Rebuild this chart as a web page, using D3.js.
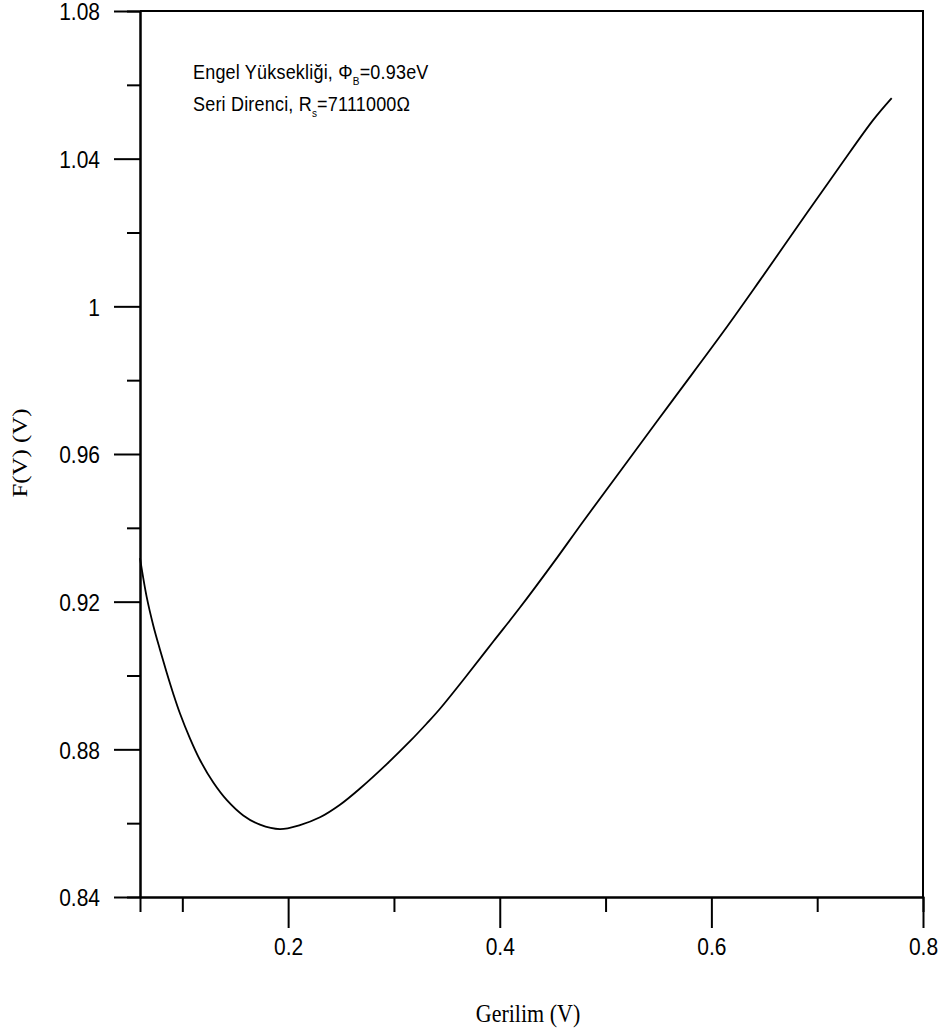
<!DOCTYPE html>
<html>
<head>
<meta charset="utf-8">
<script src="https://cdn.jsdelivr.net/npm/d3@7"></script>
<style>
  body { margin: 0; background: #fff; }
  svg { display: block; }
</style>
</head>
<body>
<script>
const width = 947
const height = 1035

// F(V) egrisi
const voltage = [0.060, 0.0663, 0.0726, 0.0789, 0.0852, 0.0915, 0.0978, 0.1073, 0.1167, 0.1293,
  0.1419, 0.1576, 0.1734, 0.1923, 0.2112, 0.2301, 0.2490, 0.2679, 0.2932, 0.3152,
  0.3310, 0.3435, 0.3688, 0.3939, 0.4191, 0.4506, 0.4790, 0.5168, 0.5640, 0.6113,
  0.6460, 0.6901, 0.7216, 0.7530, 0.7704]
const fv = [0.9318, 0.9213, 0.9135, 0.9070, 0.9008, 0.8950, 0.8897, 0.8829, 0.8771, 0.8710,
  0.8663, 0.8621, 0.8596, 0.8584, 0.8595, 0.8616, 0.8650, 0.8694, 0.8760, 0.8822,
  0.8870, 0.8910, 0.9000, 0.9092, 0.9184, 0.9305, 0.9418, 0.9565, 0.9748, 0.9931,
  1.0071, 1.0252, 1.0380, 1.0505, 1.0564]

const xMajor = [0.2, 0.4, 0.6, 0.8]
const xMinor = [0.1, 0.3, 0.5, 0.7]
const yMajor = [0.84, 0.88, 0.92, 0.96, 1.0, 1.04, 1.08]
const yMinor = [0.86, 0.90, 0.94, 0.98, 1.02, 1.06]
const yTickLabels = ["0.84", "0.88", "0.92", "0.96", "1", "1.04", "1.08"]
const xTickLabels = ["0.2", "0.4", "0.6", "0.8"]

const stretch = 1.13 // orijinal resim dikeyde biraz uzatilmis

const x = d3.scaleLinear().domain([0.06, 0.8]).range([140, 923])
const y = d3.scaleLinear().domain([0.84, 1.08]).range([897, 11])

const svg = d3.select('body').append('svg')
  .attr('width', width)
  .attr('height', height)

const sans = "'Liberation Sans', Arial, sans-serif"
const serif = "'Liberation Serif', 'Times New Roman', serif"

// eksenler
const xAxisMinor = d3.axisBottom(x).tickValues(xMinor).tickSize(15).tickFormat('')
const xAxisMajor = d3.axisBottom(x).tickValues(xMajor).tickSize(31).tickSizeOuter(0)
  .tickPadding(10).tickFormat((d, i) => xTickLabels[i])
const yAxisMinor = d3.axisLeft(y).tickValues(yMinor).tickSize(13).tickFormat('')
const yAxisMajor = d3.axisLeft(y).tickValues(yMajor).tickSize(26).tickSizeOuter(0)
  .tickPadding(14).tickFormat((d, i) => yTickLabels[i])

svg.append('g').attr('transform', 'translate(0,897)').call(xAxisMinor)
const gx = svg.append('g').attr('transform', 'translate(0,897)').call(xAxisMajor)
svg.append('g').attr('transform', 'translate(140,0)').call(yAxisMinor)
const gy = svg.append('g').attr('transform', 'translate(140,0)').call(yAxisMajor)

svg.selectAll('.domain, .tick line')
  .attr('stroke', '#000')
  .attr('stroke-width', 2)

gx.selectAll('text')
  .attr('font-family', sans).attr('font-size', 21).attr('fill', '#000')
  .attr('y', 41 / stretch).attr('dy', '0.71em')
  .attr('transform', `scale(1,${stretch})`)
gy.selectAll('text')
  .attr('font-family', sans).attr('font-size', 21).attr('fill', '#000')
  .attr('dy', '0.37em')
  .attr('transform', `scale(1,${stretch})`)

// ust ve sag cerceve
svg.append('path')
  .attr('d', `M${x(0.06)},${y(1.08)}H${x(0.8)}V${y(0.84)}`)
  .attr('fill', 'none')
  .attr('stroke', '#000')
  .attr('stroke-width', 2)

// egri
const line = d3.line()
  .x((d, i) => x(voltage[i]))
  .y(d => y(d))
  .curve(d3.curveCatmullRom.alpha(0.5))

svg.append('path')
  .datum(fv)
  .attr('d', line)
  .attr('fill', 'none')
  .attr('stroke', '#000')
  .attr('stroke-width', 1.8)

// eksen basliklari
svg.append('text')
  .attr('transform', `translate(528,1022) scale(1,${stretch})`)
  .attr('text-anchor', 'middle')
  .attr('font-family', serif).attr('font-size', 22)
  .text('Gerilim (V)')

svg.append('text')
  .attr('transform', `translate(27,453) scale(1,${stretch}) rotate(-90)`)
  .attr('text-anchor', 'middle')
  .attr('font-family', serif).attr('font-size', 22)
  .text('F(V) (V)')

// aciklama
const note1 = svg.append('text')
  .attr('transform', `translate(193,79) scale(1,${stretch})`)
  .attr('font-family', sans).attr('font-size', 18).attr('letter-spacing', 0.2)
note1.append('tspan').text('Engel Yüksekliği, Φ')
note1.append('tspan').attr('font-size', 10).attr('dy', 5).text('B')
note1.append('tspan').attr('dy', -5).text('=0.93eV')

const note2 = svg.append('text')
  .attr('transform', `translate(193,111) scale(1,${stretch})`)
  .attr('font-family', sans).attr('font-size', 18).attr('letter-spacing', 0.2)
note2.append('tspan').text('Seri Direnci, R')
note2.append('tspan').attr('font-size', 10).attr('dy', 5).text('s')
note2.append('tspan').attr('dy', -5).text('=7111000Ω')
</script>
</body>
</html>
